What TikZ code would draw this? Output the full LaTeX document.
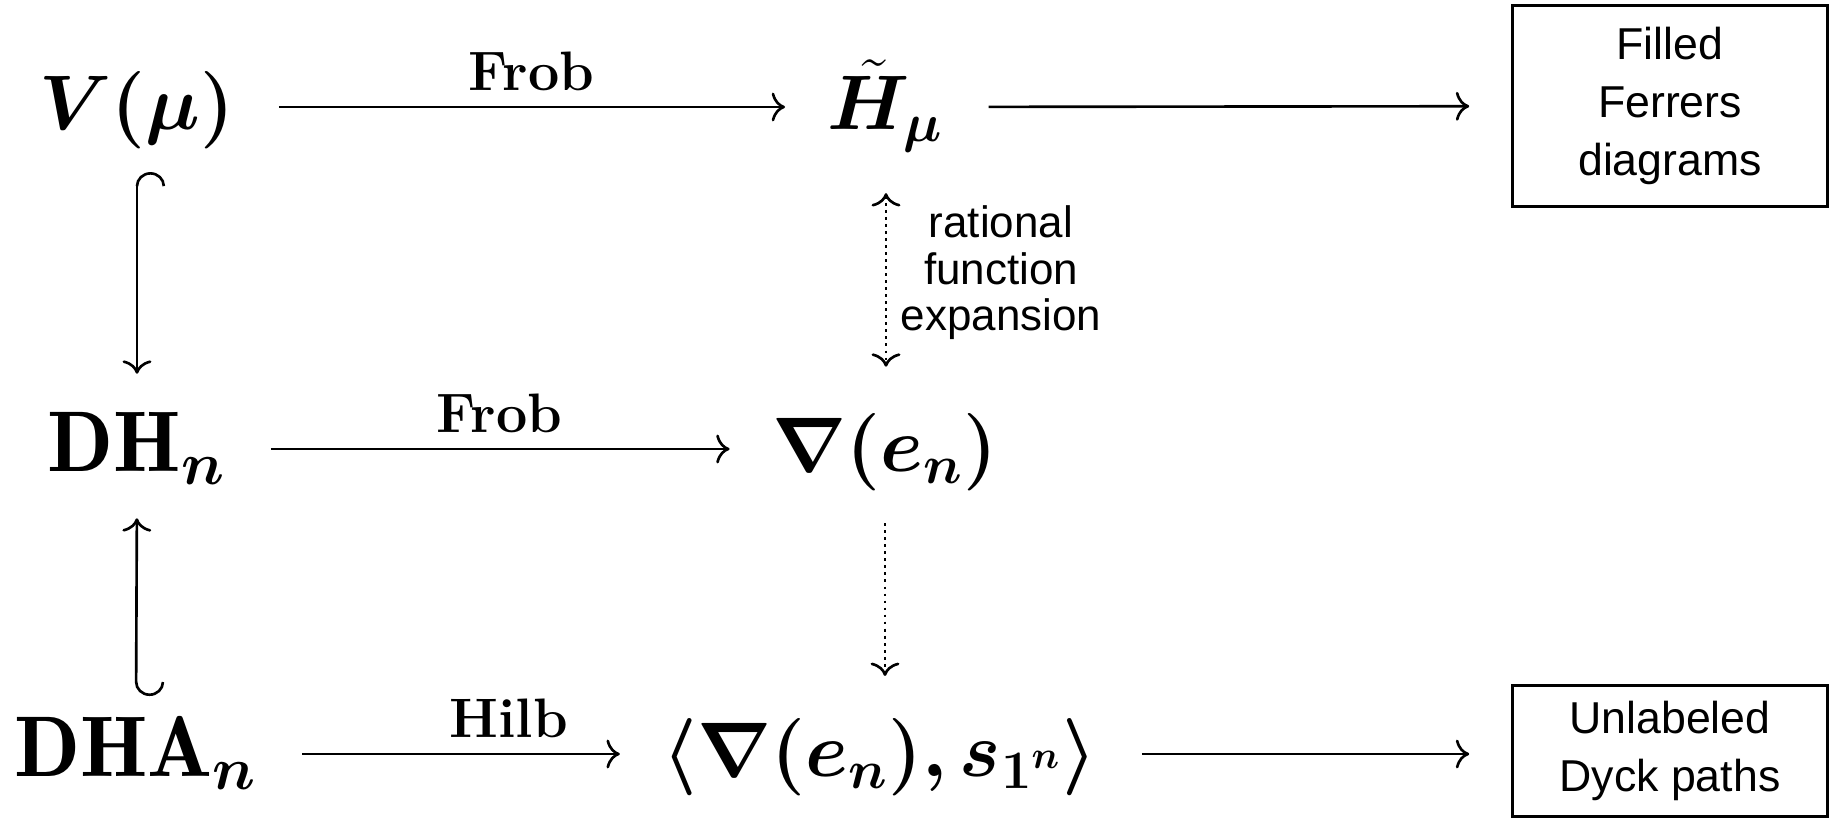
\RequirePackage{fix-cm}
\documentclass[tikz,border=0pt]{standalone}
\usepackage{amsmath,bm}
\usepackage{fontspec}
\setsansfont{Liberation Sans}
\usetikzlibrary{arrows.meta}

\tikzset{
  obj/.style={inner sep=0pt, text height=18pt, text depth=5pt, font=\fontsize{22}{26}\selectfont},
  bigobj/.style={obj, font=\fontsize{24.5}{29}\selectfont},
  maplbl/.style={anchor=base, yshift=4.8pt, inner sep=0pt, font=\fontsize{15.8}{18}\selectfont\bfseries},
  cdarrow/.style={line width=0.75pt, -{Computer Modern Rightarrow[length=3.8pt,width=8.2pt]}, shorten <=12.5pt, shorten >=12pt},
  dotarrow/.style={line width=0.8pt, dash pattern=on 0.8pt off 1.2pt},
  outbox/.style={draw, line width=0.85pt, align=center, font=\sffamily\fontsize{12.7}{16.5}\selectfont},
}

\begin{document}
\begin{tikzpicture}[x=0.01cm, y=-0.01cm]
\useasboundingbox (0,0) rectangle (1829,824);

% ===== the objects =====
\node[obj] (Vmu) at (137,107) {$\bm{V(\mu)}$};
\node[obj] (Ht)  at (886,107) {$\bm{\tilde{H}_{\mu}}$};
\node[bigobj] (DH)  at (137,449) {$\mathbf{DH}_{\bm{n}}$};
\node[obj] (nab) at (885,449) {$\bm{\nabla(e_n)}$};
\node[bigobj] (DHA) at (136,754) {$\mathbf{DHA}_{\bm{n}}$};
\node[obj] (hilb) at (880,754) {$\bm{\langle \nabla(e_n), s_{1^n}\rangle}$};

\node[outbox, minimum width=3.14cm, minimum height=2.0cm] (ferrers) at (1670,106) {Filled\\Ferrers\\diagrams};
\node[outbox, minimum width=3.14cm, minimum height=1.3cm] (dyck) at (1670,751) {Unlabeled\\Dyck paths};

% ===== horizontal maps =====
\draw[cdarrow] (Vmu) -- node[maplbl] {Frob} (Ht);
\draw[cdarrow] (Ht) -- (ferrers);
\draw[cdarrow] (DH) -- node[maplbl] {Frob} (nab);
\draw[cdarrow] (DHA) -- node[maplbl, pos=0.62] {Hilb} (hilb);
\draw[cdarrow] (hilb) -- (dyck.west |- hilb);

% ===== vertical maps =====
\draw[line width=0.75pt, {Hooks[right,width=16pt,length=4pt]}-{Computer Modern Rightarrow[length=3.8pt,width=8.2pt]},
  shorten <=6.8pt, shorten >=9.7pt] (Vmu.south) -- (DH.north);
\draw[line width=0.75pt, {Hooks[left,width=16pt,length=4pt]}-{Computer Modern Rightarrow[length=3.8pt,width=8.2pt]},
  shorten <=4.8pt, shorten >=8pt] (DHA.north) -- (DH.south);

\draw[dotarrow, {Computer Modern Rightarrow[length=3.8pt,width=8.2pt,line width=0.75pt]}-{Computer Modern Rightarrow[length=3.8pt,width=8.2pt,line width=0.75pt]},
  shorten <=12.8pt, shorten >=11.7pt] (Ht.south) -- (Ht.south |- nab.north);
\node[align=center, inner sep=0pt, font=\sffamily\fontsize{12.5}{13.2}\selectfont] (ratlbl) at (1001,273) {rational\\function\\expansion};

\draw[dotarrow, -{Computer Modern Rightarrow[length=3.8pt,width=8.2pt,line width=0.75pt]},
  shorten <=9.4pt, shorten >=10.5pt] (nab.south) -- (nab.south |- hilb.north);

\end{tikzpicture}
\end{document}
